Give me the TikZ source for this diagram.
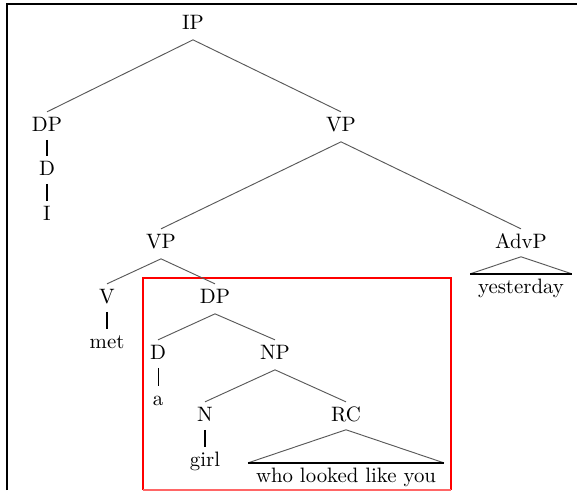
\documentclass[tikz,border=0pt]{standalone}
\begin{document}
\begin{tikzpicture}[x=0.48pt,y=-0.48pt,
  lab/.style={anchor=base,inner sep=2pt,text height=7pt,text depth=2pt,font=\fontsize{10}{12}\selectfont},
  leaf/.style={lab,inner xsep=3.6pt},
  branch/.style={draw=black!65,line width=0.45pt},
  unary/.style={draw=black,line width=1.1pt},
  thinunary/.style={draw=black,line width=0.4pt},
  tribase/.style={draw=black,line width=1.1pt},
  frameline/.style={draw=black,line width=1.1pt},
  redbox/.style={draw=red,color=red,line width=1pt}]
\useasboundingbox (0,0) rectangle (577,490);
\draw[frameline] (7,490) -- (7,4) -- (577,4);
\draw[redbox] (143,490) -- (143,278);
\draw[redbox] (142,278) -- (452,278);
\draw[redbox] (451,278) -- (451,490);
\draw[redbox,draw=red!60] (143,490.3) -- (451,490.3);
% nodes
\node[lab] (ip) at (193,29) {IP};
\node[lab] (dp1) at (47,131) {DP};
\node[lab] (vp1) at (341,131) {VP};
\node[lab] (d1) at (47,175) {D};
\node[lab] (i1) at (47,220) {I};
\node[lab] (vp2) at (161,248) {VP};
\node[lab] (advp) at (521,248) {AdvP};
\node[leaf] (yest) at (521,293) {yesterday};
\node[lab] (v) at (107,303) {V};
\node[lab] (met) at (107,348) {met};
\node[lab] (dp2) at (215,303) {DP};
\node[lab] (d2) at (158,359) {D};
\node[lab] (a) at (158,405) {a};
\node[lab] (np) at (275,359) {NP};
\node[lab] (n) at (205,421) {N};
\node[lab] (girl) at (205,466) {girl};
\node[lab] (rc) at (346,421) {RC};
\node[leaf] (who) at (346,482) {who looked like you};
% edges
\draw[branch] ([yshift=-1pt]ip.south) -- (dp1.north);
\draw[branch] ([yshift=-1pt]ip.south) -- (vp1.north);
\draw[branch] ([yshift=-1pt]vp1.south) -- (vp2.north);
\draw[branch] ([yshift=-1pt]vp1.south) -- (advp.north);
\draw[branch] ([yshift=-1pt]vp2.south) -- (v.north);
\draw[branch] ([yshift=-1pt]vp2.south) -- (dp2.north);
\draw[branch] ([yshift=-1pt]dp2.south) -- (d2.north);
\draw[branch] ([yshift=-1pt]dp2.south) -- (np.north);
\draw[branch] ([yshift=-1pt]np.south) -- (n.north);
\draw[branch] ([yshift=-1pt]np.south) -- (rc.north);
\draw[unary] (dp1.south) -- (d1.north);
\draw[unary] (d1.south) -- (i1.north);
\draw[unary] (v.south) -- (met.north);
\draw[unary] (n.south) -- (girl.north);
\draw[thinunary] (d2.south) -- (a.north);
% triangles
\draw[branch] (yest.north west) -- (advp.south) -- (yest.north east);
\draw[tribase] (yest.north west) -- (yest.north east);
\draw[branch] (who.north west) -- (rc.south) -- (who.north east);
\draw[tribase] (who.north west) -- (who.north east);
\end{tikzpicture}
\end{document}
